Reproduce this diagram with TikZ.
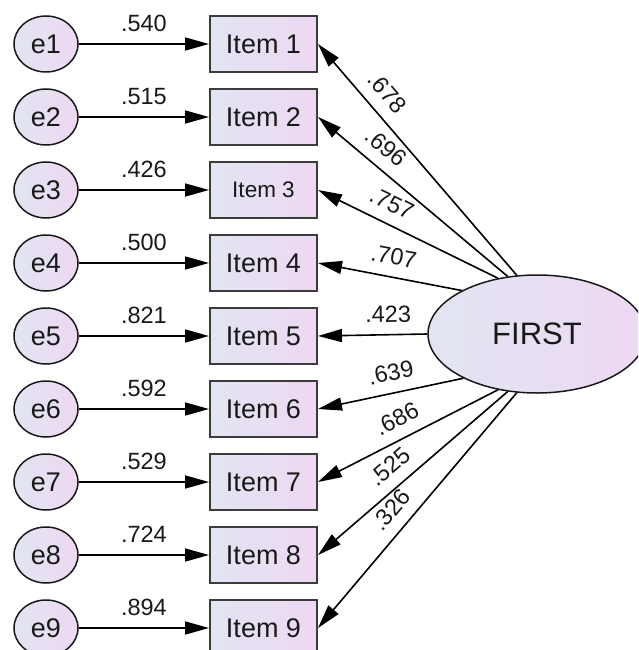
\documentclass[tikz,border=0pt]{standalone}
\usepackage{fontspec}
\setmainfont{Liberation Sans}
\usetikzlibrary{arrows.meta,shapes.geometric}
\definecolor{gl}{RGB}{225,229,242}
\definecolor{gr}{RGB}{238,216,242}
\definecolor{ink}{RGB}{25,25,25}
\begin{document}
\begin{tikzpicture}[x=1pt,y=-1pt,
  errnode/.style={ellipse, draw=ink, line width=1.5pt, left color=gl, right color=gr,
    minimum width=64pt, minimum height=56pt, inner sep=0pt,
    font=\fontsize{27}{30}\selectfont, text=ink},
  itembox/.style={rectangle, draw=ink!85, line width=2pt, left color=gl, right color=gr,
    minimum width=107pt, minimum height=56pt, inner sep=0pt, text=ink},
  latent/.style={ellipse, draw=ink, line width=1.5pt, left color=gl, right color=gr,
    minimum width=218pt, minimum height=118pt, inner sep=0pt,
    font=\fontsize{31}{36}\selectfont, text=ink},
  arrout/.style={line width=1.6pt, -{Triangle[length=24pt,width=13pt]}},
  arrin/.style={line width=1.6pt, {Triangle[length=24pt,width=13pt]}-},
  wt/.style={inner sep=0pt, font=\fontsize{23.5}{27}\selectfont, text=ink}
]
\useasboundingbox (0,0) rectangle (638,650);
\clip (0,0) rectangle (638,650);

\node[latent] (F) at (537,334) {FIRST};

\foreach \i/\w/\fs in {1/.540/27,2/.515/27,3/.426/22.5,4/.500/27,5/.821/27,6/.592/27,7/.529/27,8/.724/27,9/.894/27}{
  \pgfmathsetmacro\yy{44+73*(\i-1)}
  \node[errnode] (e\i) at (46,\yy) {e\i};
  \node[itembox, font=\fontsize{\fs}{\fs}\selectfont] (it\i) at (263.5,\yy) {Item \i};
  \draw[arrout] (e\i) -- node[wt, above=11.5pt] {\w} (it\i);
}

\foreach \i/\a/\w/\p in {1/109/.678/0.27, 2/117/.696/0.29, 3/125/.757/0.36, 4/150/.707/0.50,
  5/180/.423/0.645, 6/211/.639/0.53, 7/235/.686/0.49, 8/243/.525/0.447, 9/251/.326/0.447}{
  \draw[arrin] (it\i.east) -- node[wt, sloped, above=11.5pt, pos=\p] {\w} (F.\a);
}
\end{tikzpicture}
\end{document}
